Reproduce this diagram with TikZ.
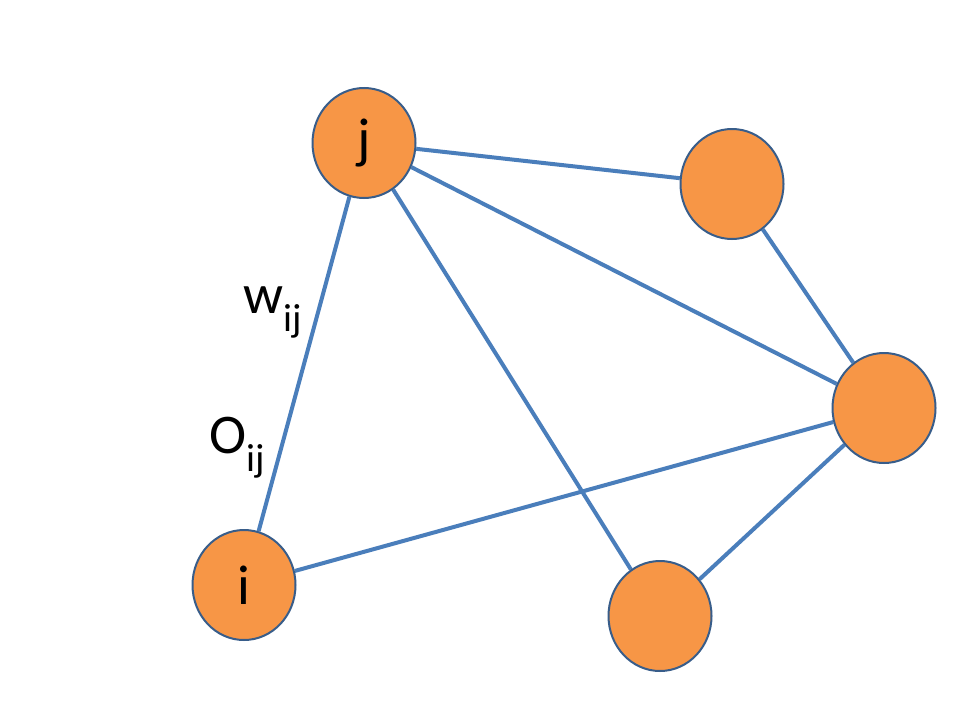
\documentclass[tikz,border=0pt]{standalone}
\usepackage{fontspec}
\setmainfont{Carlito}
\usetikzlibrary{shapes.geometric,backgrounds}
\definecolor{nodefill}{HTML}{F79646}
\definecolor{nodeline}{HTML}{385D8A}
\definecolor{edgecol}{HTML}{4A7EBB}
\tikzset{
  vert/.style={ellipse, draw=nodeline, line width=2pt, fill=nodefill,
    minimum width=103pt, minimum height=110pt, inner sep=0pt, font=\fontsize{56}{60}\selectfont},
  edge/.style={draw=edgecol, line width=4pt},
  lbl/.style={font=\fontsize{56}{60}\selectfont, inner sep=0pt, anchor=base}
}
\begin{document}
\begin{tikzpicture}[x=1pt,y=-1pt]
\useasboundingbox (0,0) rectangle (960,720);
\node[vert] (j) at (364,143) {j};
\node[vert] (a) at (732,184) {};
\node[vert] (r) at (884,408) {};
\node[vert] (b) at (660,616) {};
\node[vert] (i) at (244,585) {i};
\begin{scope}[on background layer]
\fill[white] (0,0) rectangle (960,720);
\path[edge] (j) -- (a) (j) -- (r) (j) -- (b) (j) -- (i) (i) -- (r) (a) -- (r) (b) -- (r);
\end{scope}
\node[lbl] (w) at (273,313) {w\textsubscript{ij}};
\node[lbl] (o) at (237,453) {O\textsubscript{ij}};
\end{tikzpicture}
\end{document}
